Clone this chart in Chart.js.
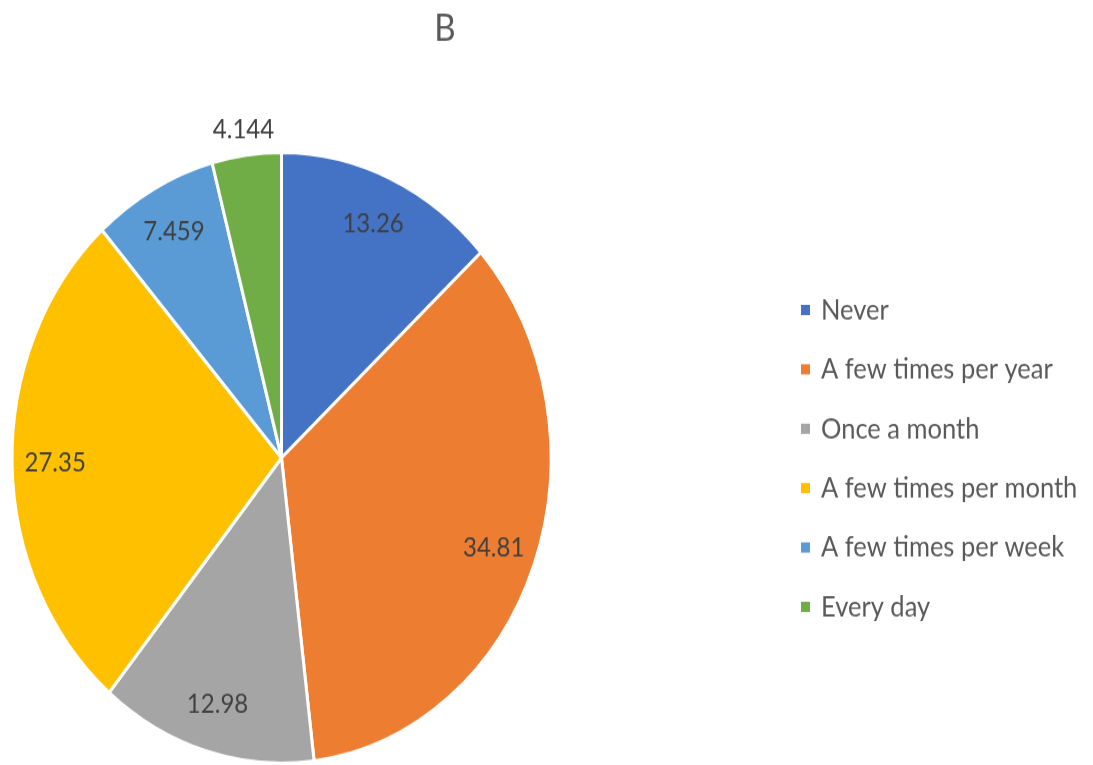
<!DOCTYPE html>
<html lang="en">
<head>
<meta charset="UTF-8">
<title>B</title>
<script src="https://cdn.jsdelivr.net/npm/chart.js"></script>
<style>
  body { margin: 0; background: #fff; }
  #wrap { width: 1093px; height: 765px; overflow: hidden; }
  /* the reference is stretched vertically, so draw at 675px and scale up */
  #pie { transform: scaleY(1.1333); transform-origin: 0 0; }
</style>
</head>
<body>
<div id="wrap">
  <canvas id="pie" width="1093" height="675"></canvas>
</div>

<script>
  const categories = ['Never', 'A few times per year', 'Once a month',
    'A few times per month', 'A few times per week', 'Every day'];
  const values = [13.26, 34.81, 12.98, 27.35, 7.459, 4.144];
  const valueLabels = ['13.26', '34.81', '12.98', '27.35', '7.459', '4.144'];
  const colors = ['#4472C4', '#ED7D31', '#A5A5A5', '#FFC000', '#5B9BD5', '#70AD47'];

  const textColor = '#404040';
  const fontFamily = 'Lato, "Open Sans", sans-serif';

  // title, value labels and legend drawn on top of the pie
  const extras = {
    id: 'extras',
    afterDraw(chart) {
      const c = chart.ctx;
      c.save();
      c.textAlign = 'center';
      c.textBaseline = 'middle';

      // title
      c.fillStyle = '#595959';
      c.font = '33px ' + fontFamily;
      c.fillText('B', 445, 25);

      // value labels
      c.fillStyle = textColor;
      c.font = '24px ' + fontFamily;
      const meta = chart.getDatasetMeta(0);
      meta.data.forEach((arc, i) => {
        const p = arc.getProps(['x', 'y', 'startAngle', 'endAngle', 'outerRadius'], true);
        const mid = (p.startAngle + p.endAngle) / 2;
        const small = values[i] < 5;
        const r = p.outerRadius * (small ? 1.085 : 0.84);
        c.fillText(valueLabels[i], p.x + Math.cos(mid) * r, p.y + Math.sin(mid) * r);
      });

      // legend
      c.textAlign = 'left';
      c.font = '25.5px ' + fontFamily;
      categories.forEach((name, i) => {
        const y = 273.5 + i * 52.4;
        c.fillStyle = colors[i];
        c.fillRect(801, y - 4.5, 9, 9);
        c.fillStyle = '#595959';
        c.fillText(name, 821, y);
      });
      c.restore();
    }
  };

  new Chart(document.getElementById('pie'), {
    type: 'pie',
    data: {
      labels: categories,
      datasets: [{
        data: values,
        backgroundColor: colors,
        borderColor: '#ffffff',
        borderWidth: 3
      }]
    },
    options: {
      responsive: false,
      animation: false,
      layout: {
        padding: { left: 10, top: 133, right: 540, bottom: 0 }
      },
      plugins: {
        legend: { display: false },
        title: { display: false },
        tooltip: { enabled: false }
      }
    },
    plugins: [extras]
  });
</script>
</body>
</html>
